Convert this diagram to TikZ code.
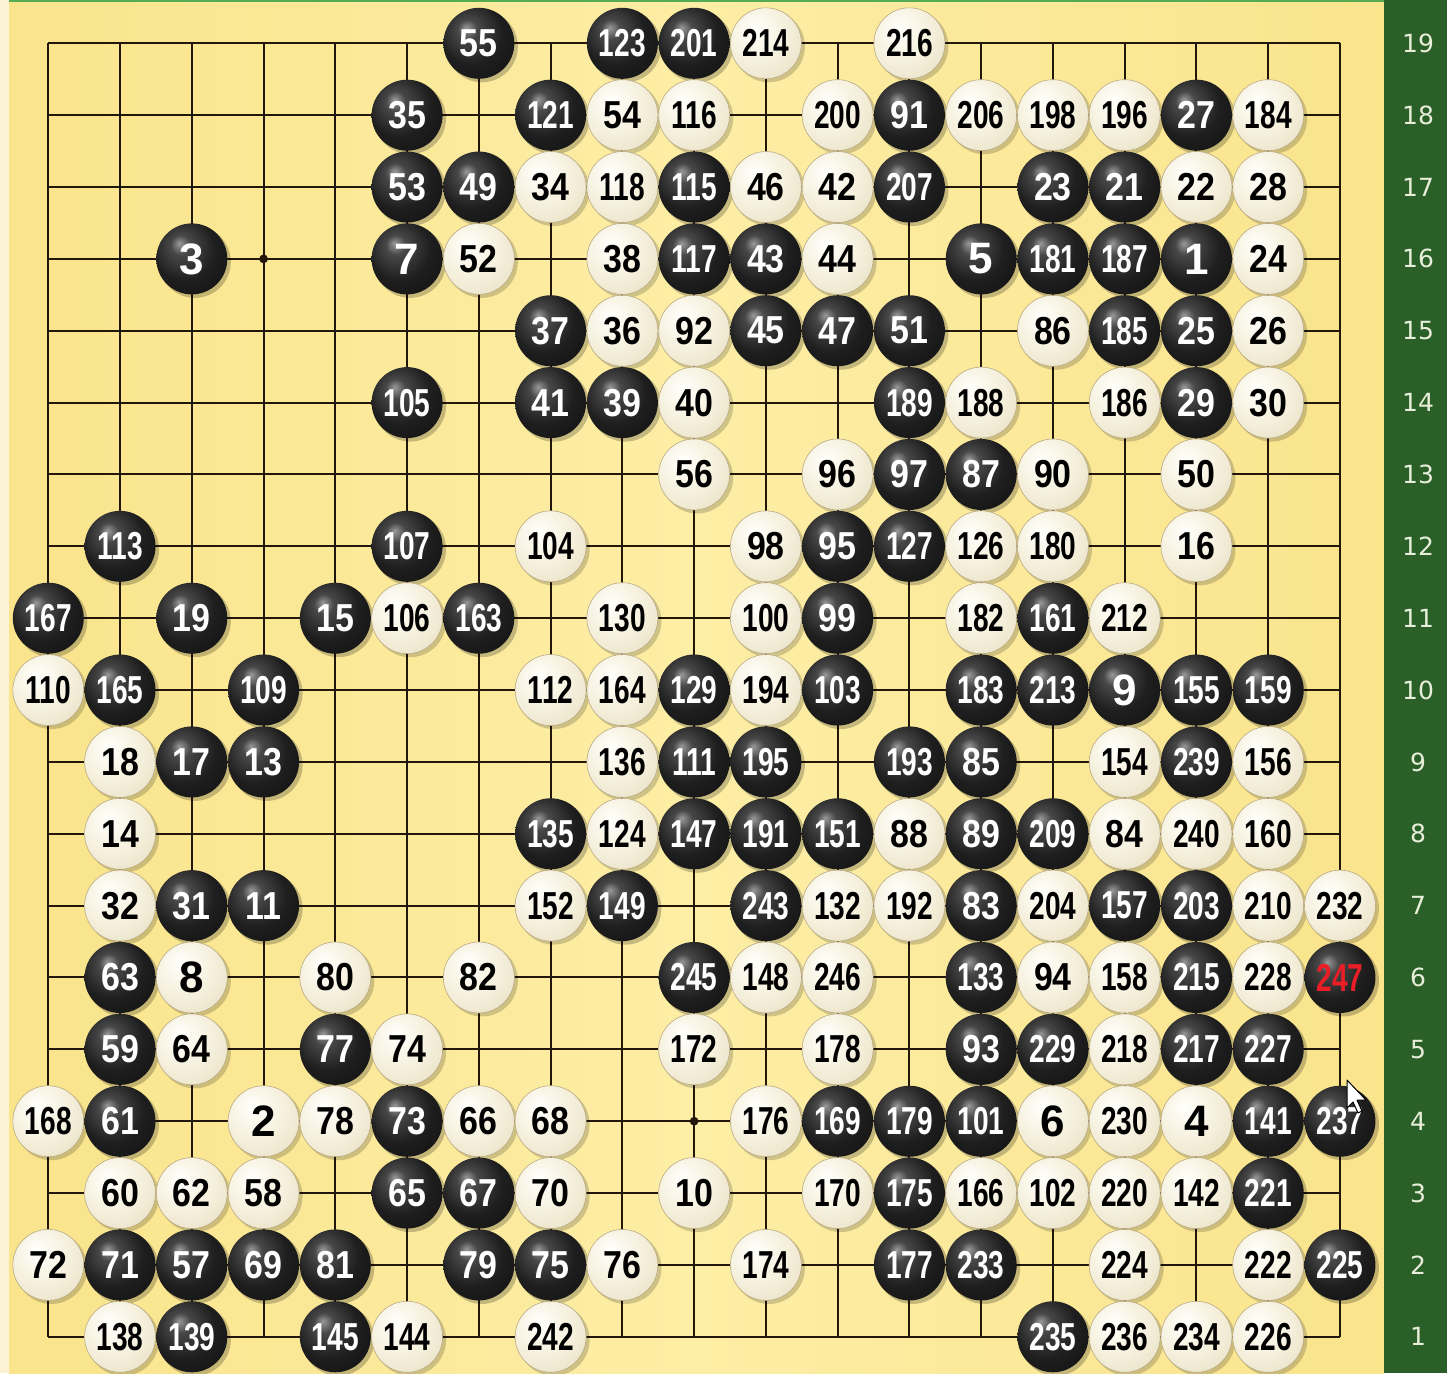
\documentclass[tikz,border=0pt]{standalone}
\usepackage{fontspec}
\newfontfamily\stonefont{Liberation Sans}
\newfontfamily\rowfont{DejaVu Sans}
\usepackage{graphicx}
\definecolor{boardc}{RGB}{250,228,140}
\definecolor{boardl}{RGB}{253,238,165}
\definecolor{greenc}{RGB}{42,96,40}
\definecolor{paleedge}{RGB}{251,243,212}
\definecolor{gridc}{RGB}{35,22,10}
\definecolor{rowc}{RGB}{232,238,218}
\definecolor{redlab}{RGB}{235,30,40}
\definecolor{wsA}{RGB}{255,255,252}
\definecolor{wsB}{RGB}{246,241,222}
\definecolor{wsC}{RGB}{228,218,188}
\definecolor{wsD}{RGB}{185,170,132}
\pgfdeclareradialshading{blackstone}{\pgfpoint{-9bp}{11bp}}{color(0bp)=(black!40); color(7bp)=(black!72); color(22bp)=(black!88); color(63bp)=(black)}
\pgfdeclareradialshading{whitestone}{\pgfpoint{-9bp}{11bp}}{color(0bp)=(wsA); color(20bp)=(wsB); color(45bp)=(wsC); color(63bp)=(wsD)}
\newcommand\stlab[1]{\ifnum#1<10 {\fontsize{22}{22}\selectfont #1}\else\ifnum#1<100 \scalebox{0.87}[1]{#1}\else\scalebox{0.72}[1]{#1}\fi\fi}
\tikzset{
  stonebase/.style={circle,inner sep=0pt,minimum size=35.5pt,font=\stonefont\bfseries\fontsize{19.5}{19.5}\selectfont},
  bstone/.style={stonebase,shading=blackstone,text=white},
  wstone/.style={stonebase,shading=whitestone,draw=wsD,line width=0.3pt,text=black},
  rowlab/.style={font=\rowfont\fontsize{12.5}{12.5}\selectfont,text=rowc},
}
\def\blacklist{7/19/55, 9/19/123, 10/19/201,
6/18/35, 8/18/121, 13/18/91, 17/18/27,
6/17/53, 7/17/49, 10/17/115, 13/17/207, 15/17/23, 16/17/21,
3/16/3, 6/16/7, 10/16/117, 11/16/43, 14/16/5, 15/16/181, 16/16/187, 17/16/1,
8/15/37, 11/15/45, 12/15/47, 13/15/51, 16/15/185, 17/15/25,
6/14/105, 8/14/41, 9/14/39, 13/14/189, 17/14/29,
13/13/97, 14/13/87,
2/12/113, 6/12/107, 12/12/95, 13/12/127,
1/11/167, 3/11/19, 5/11/15, 7/11/163, 12/11/99, 15/11/161,
2/10/165, 4/10/109, 10/10/129, 12/10/103, 14/10/183, 15/10/213, 16/10/9, 17/10/155, 18/10/159,
3/9/17, 4/9/13, 10/9/111, 11/9/195, 13/9/193, 14/9/85, 17/9/239,
8/8/135, 10/8/147, 11/8/191, 12/8/151, 14/8/89, 15/8/209,
3/7/31, 4/7/11, 9/7/149, 11/7/243, 14/7/83, 16/7/157, 17/7/203,
2/6/63, 10/6/245, 14/6/133, 17/6/215,
2/5/59, 5/5/77, 14/5/93, 15/5/229, 17/5/217, 18/5/227,
2/4/61, 6/4/73, 12/4/169, 13/4/179, 14/4/101, 18/4/141, 19/4/237,
6/3/65, 7/3/67, 13/3/175, 18/3/221,
2/2/71, 3/2/57, 4/2/69, 5/2/81, 7/2/79, 8/2/75, 13/2/177, 14/2/233, 19/2/225,
3/1/139, 5/1/145, 15/1/235}
\def\whitelist{11/19/214, 13/19/216,
9/18/54, 10/18/116, 12/18/200, 14/18/206, 15/18/198, 16/18/196, 18/18/184,
8/17/34, 9/17/118, 11/17/46, 12/17/42, 17/17/22, 18/17/28,
7/16/52, 9/16/38, 12/16/44, 18/16/24,
9/15/36, 10/15/92, 15/15/86, 18/15/26,
10/14/40, 14/14/188, 16/14/186, 18/14/30,
10/13/56, 12/13/96, 15/13/90, 17/13/50,
8/12/104, 11/12/98, 14/12/126, 15/12/180, 17/12/16,
6/11/106, 9/11/130, 11/11/100, 14/11/182, 16/11/212,
1/10/110, 8/10/112, 9/10/164, 11/10/194,
2/9/18, 9/9/136, 16/9/154, 18/9/156,
2/8/14, 9/8/124, 13/8/88, 16/8/84, 17/8/240, 18/8/160,
2/7/32, 8/7/152, 12/7/132, 13/7/192, 15/7/204, 18/7/210, 19/7/232,
3/6/8, 5/6/80, 7/6/82, 11/6/148, 12/6/246, 15/6/94, 16/6/158, 18/6/228,
3/5/64, 6/5/74, 10/5/172, 12/5/178, 16/5/218,
1/4/168, 4/4/2, 5/4/78, 7/4/66, 8/4/68, 11/4/176, 15/4/6, 16/4/230, 17/4/4,
2/3/60, 3/3/62, 4/3/58, 8/3/70, 10/3/10, 12/3/170, 14/3/166, 15/3/102, 16/3/220, 17/3/142,
1/2/72, 9/2/76, 11/2/174, 16/2/224, 18/2/222,
2/1/138, 6/1/144, 8/1/242, 16/1/236, 17/1/234, 18/1/226}
\def\px#1{48.3+71.76*(#1-1)}
\def\py#1{43.3+71.86*(19-#1)}
\begin{document}
\begin{tikzpicture}[x=0.5pt,y=-0.5pt]
\useasboundingbox (0,0) rectangle (1447,1373);
% backgrounds
\fill[paleedge] (0,0) rectangle (10,1373);
\shade[left color=boardc,right color=boardc,middle color=boardl] (9,0) rectangle (1384,1373);
\fill[greenc] (1384,0) rectangle (1447,1373);
\fill[green!35!gray] (9,0) rectangle (1384,2);
% grid
\foreach \i in {1,...,19} {
  \draw[gridc,line width=1pt] ({\px{\i}},{\py{19}}) -- ({\px{\i}},{\py{1}});
  \draw[gridc,line width=1pt] ({\px{1}},{\py{\i}}) -- ({\px{19}},{\py{\i}});
  \node[rowlab] (r\i) at (1418,{\py{\i}}) {\i};
}
\foreach \c/\r in {4/4,10/4,16/4,4/10,10/10,16/10,4/16,10/16,16/16}
  \fill[gridc] ({\px{\c}},{\py{\r}}) circle (2.2pt);
% shadows
\foreach \c/\r/\n in \blacklist
  \fill[black,opacity=0.22] ({\px{\c}+3},{\py{\r}+3}) circle (18pt);
\foreach \c/\r/\n in \whitelist
  \fill[black,opacity=0.18] ({\px{\c}+3},{\py{\r}+3}) circle (18pt);
\fill[black,opacity=0.22] ({\px{19}+3},{\py{6}+3}) circle (18pt);
% stones
\foreach \c/\r/\n in \blacklist
  \node[bstone] (s\n) at ({\px{\c}},{\py{\r}}) {\stlab{\n}};
\foreach \c/\r/\n in \whitelist
  \node[wstone] (s\n) at ({\px{\c}},{\py{\r}}) {\stlab{\n}};
\node[bstone,text=redlab] (s247) at ({\px{19}},{\py{6}}) {\stlab{247}};
% mouse cursor
\filldraw[fill=white,draw=black,line width=0.5pt,line join=round]
  (1347,1080) -- (1347,1108) -- (1353,1102) -- (1358,1113) -- (1362,1111) -- (1357,1100) -- (1366,1100) -- cycle;
\end{tikzpicture}
\end{document}
